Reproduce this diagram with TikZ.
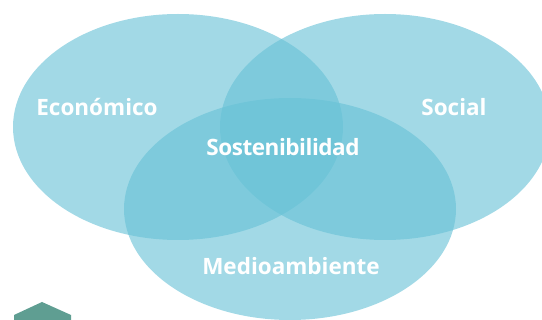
\documentclass[tikz,border=0pt]{standalone}
\usepackage{fontspec}
\setmainfont{Open Sans}
\definecolor{venn}{RGB}{103,193,214}
\definecolor{house}{RGB}{95,158,146}
\begin{document}
\begin{tikzpicture}[x=1pt,y=-1pt,
  circ/.style={fill=venn,fill opacity=0.61,draw=none},
  lbl/.style={text=white,font=\bfseries\fontsize{22.5}{26}\selectfont,inner sep=0pt}]
\useasboundingbox (0,0) rectangle (542,320);
\clip (0,0) rectangle (542,320);
\fill[circ] (178,127) ellipse [x radius=165, y radius=113];
\fill[circ] (385,127) ellipse [x radius=165, y radius=113];
\fill[circ] (290,209) ellipse [x radius=166, y radius=111];
\fill[house] (14,320) -- (14,315) -- (42,302) -- (71,315) -- (71,320) -- cycle;
\node[lbl] (eco) at (97,107) {Económico};
\node[lbl] (soc) at (454,107) {Social};
\node[lbl] (sos) at (283,147) {\addfontfeature{LetterSpace=-2}Sostenibilidad};
\node[lbl] (med) at (291,266) {Medioambiente};
\end{tikzpicture}
\end{document}
